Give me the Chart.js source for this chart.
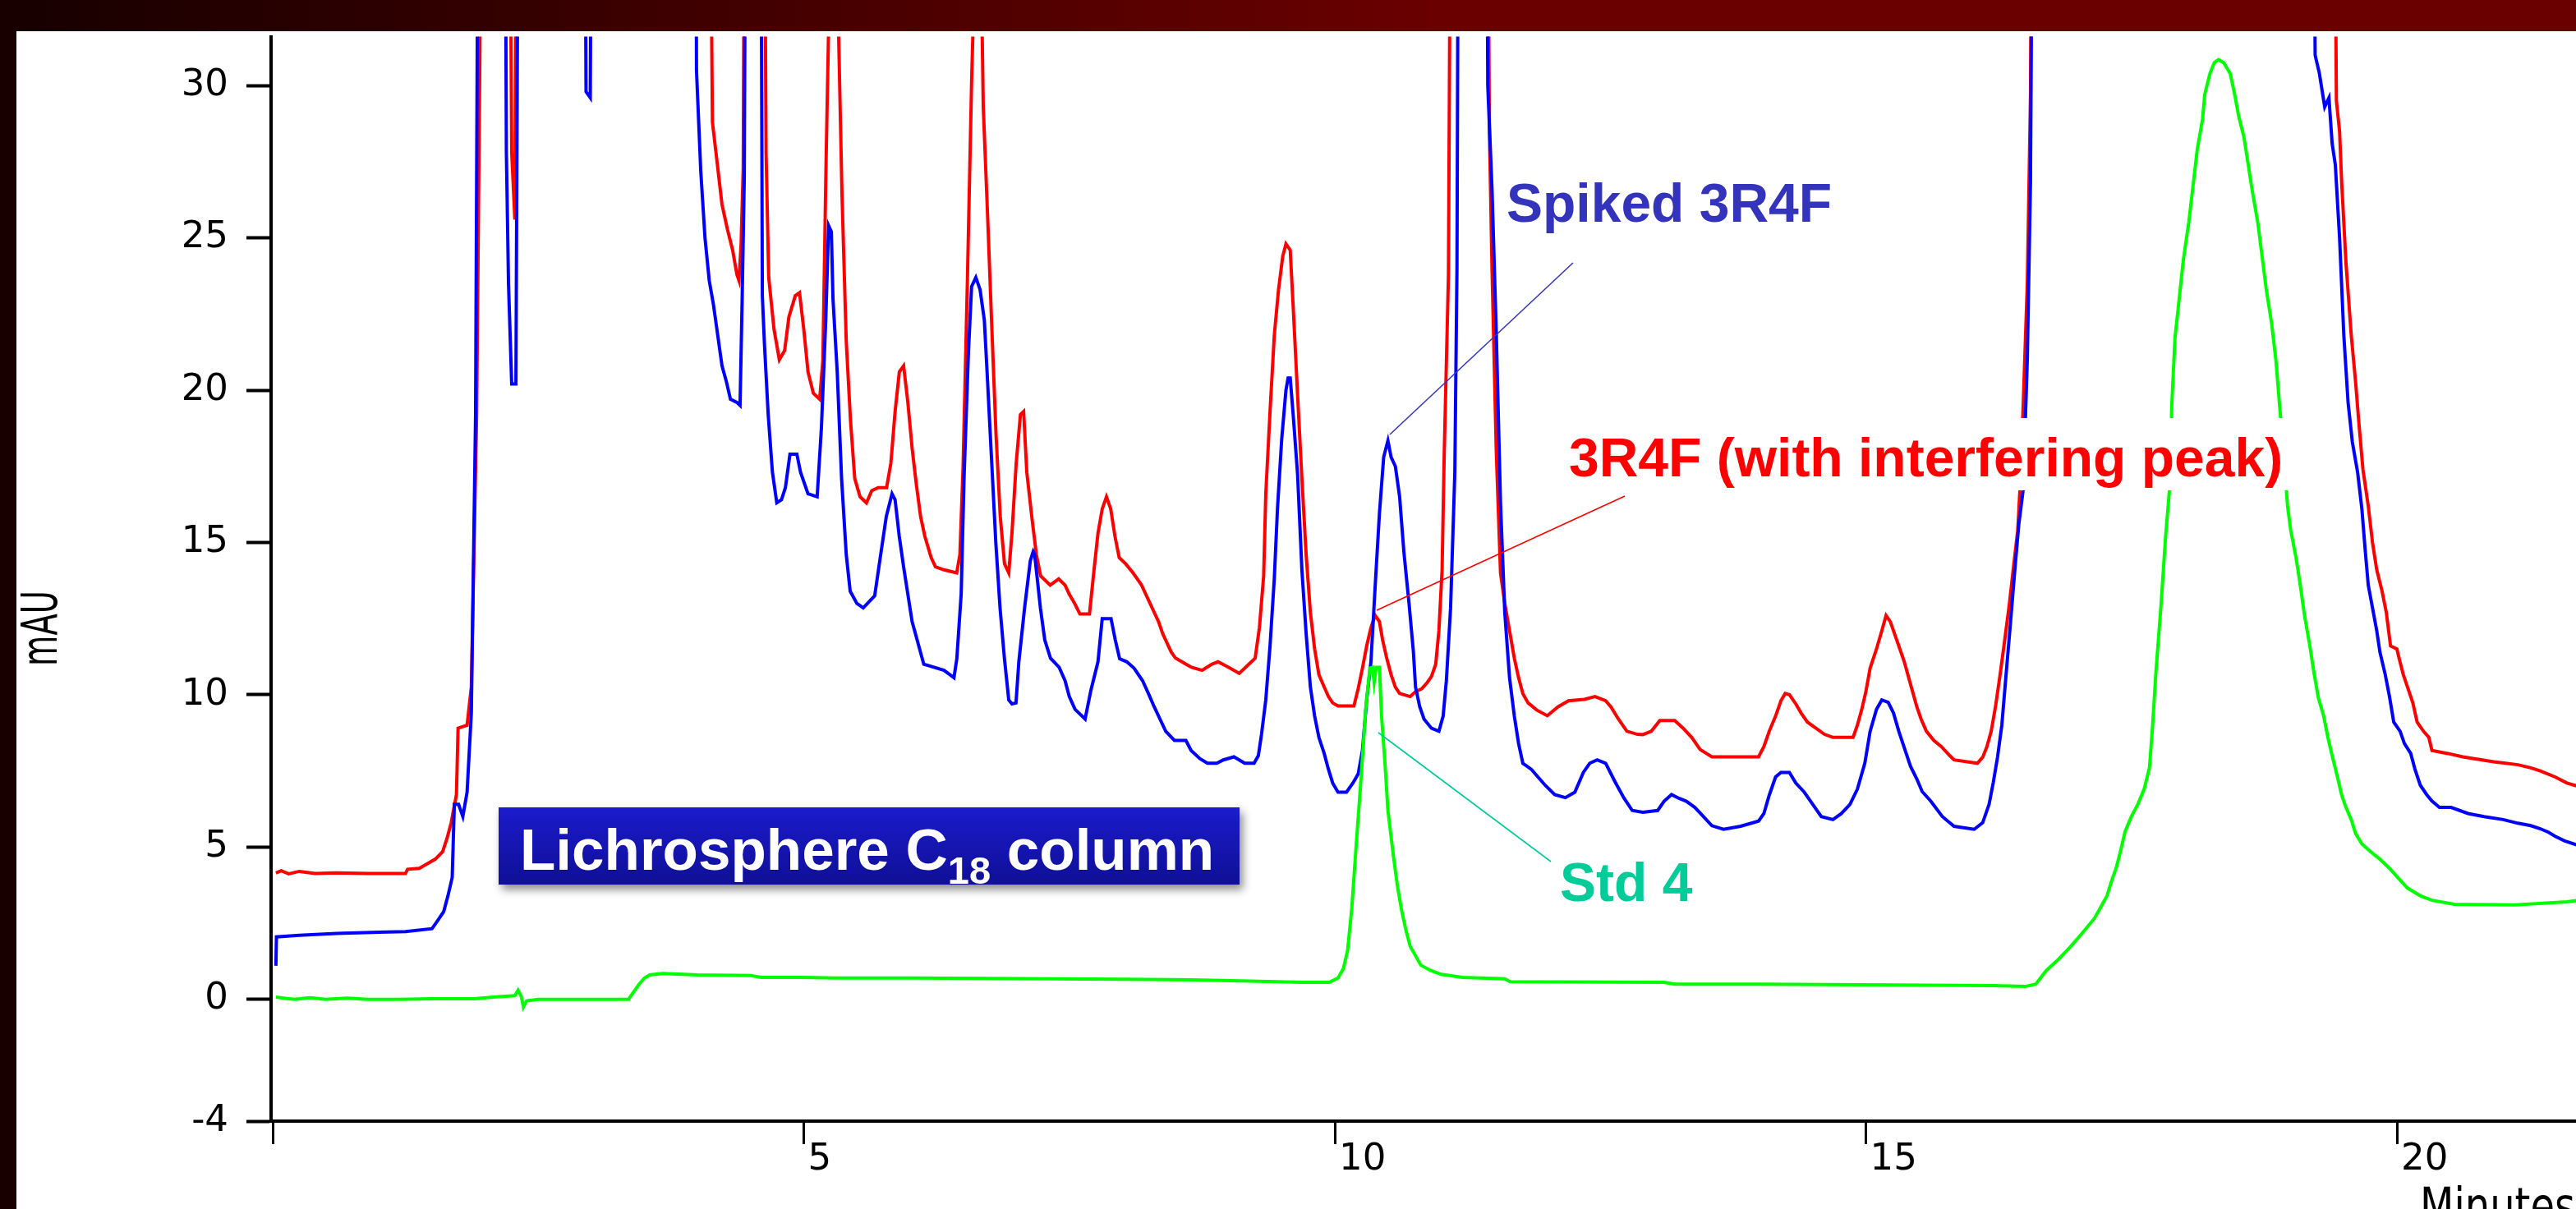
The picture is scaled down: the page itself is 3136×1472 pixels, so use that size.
<!DOCTYPE html>
<html>
<head>
<meta charset="utf-8">
<title>Lichrosphere C18 chromatogram</title>
<script src="https://cdn.jsdelivr.net/npm/chart.js@4.4.1/dist/chart.umd.min.js"></script>
<style>
html,body{margin:0;padding:0;background:#ffffff;overflow:hidden;}
#chart{display:block;}
</style>
</head>
<body>
<canvas id="chart" width="3136" height="1472"></canvas>
<script>
// ---------------- data ----------------
const xTickValues = [0, 5, 10, 15, 20];
const yTickValues = [-4, 0, 5, 10, 15, 20, 25, 30];
const xRange = [-0.0155, 21.686];   // minutes
const yRange = [-4, 31.61];         // mAU
const seriesNames = ['Std 4', 'Spiked 3R4F', '3R4F (with interfering peak)'];

// [minutes, mAU]; values above the top of the plot are off scale in the picture
const redTrace = [
[0.03,4.15],[0.08,4.22],[0.15,4.12],[0.25,4.2],[0.4,4.13],[0.6,4.15],[0.9,4.13],[1.25,4.13],
[1.27,4.27],[1.38,4.3],[1.45,4.44],[1.53,4.6],[1.6,4.85],[1.64,5.27],[1.68,5.79],[1.73,6.72],
[1.745,8.9],[1.83,9.0],[1.87,10.25],[1.92,19.2],[1.95,30.8],[1.97,45],[2.22,45],[2.25,27.8],
[2.28,25.6],[2.30,45],[4.10,45],[4.14,28.8],[4.19,27.3],[4.23,26.1],[4.28,25.3],[4.33,24.6],
[4.37,23.8],[4.39,23.6],[4.41,24.8],[4.43,27.3],[4.45,45],[4.62,45],[4.645,27.8],[4.67,23.7],
[4.72,22.0],[4.77,21.0],[4.82,21.3],[4.86,22.4],[4.92,23.1],[4.96,23.2],[5.0,22.0],[5.04,20.6],
[5.09,19.9],[5.15,19.7],[5.18,21.0],[5.21,27.5],[5.24,33.0],[5.32,33.0],[5.36,26.4],[5.40,21.6],
[5.44,19.0],[5.48,17.1],[5.53,16.5],[5.59,16.3],[5.64,16.7],[5.7,16.8],[5.78,16.8],[5.82,17.6],
[5.86,19.3],[5.9,20.6],[5.94,20.8],[5.98,19.6],[6.02,18.1],[6.06,16.9],[6.1,15.85],[6.14,15.2],
[6.2,14.5],[6.24,14.2],[6.32,14.1],[6.44,14.0],[6.47,14.6],[6.5,17.5],[6.54,23.5],[6.58,30.1],
[6.61,34],[6.67,34],[6.69,29.3],[6.73,25.8],[6.77,22.1],[6.81,18.55],[6.85,15.85],[6.89,14.3],
[6.93,14.0],[6.96,15.3],[7.0,17.6],[7.04,19.2],[7.07,19.3],[7.1,17.3],[7.15,15.75],[7.19,14.6],
[7.23,13.9],[7.32,13.6],[7.4,13.8],[7.46,13.6],[7.5,13.3],[7.55,13.0],[7.6,12.65],[7.69,12.65],
[7.73,14.0],[7.77,15.3],[7.81,16.1],[7.85,16.5],[7.89,16.1],[7.93,15.2],[7.97,14.5],[8.03,14.3],
[8.1,14.0],[8.14,13.8],[8.18,13.6],[8.22,13.3],[8.26,13.0],[8.3,12.7],[8.34,12.4],[8.38,12.0],
[8.42,11.7],[8.46,11.4],[8.5,11.2],[8.6,11.0],[8.65,10.9],[8.75,10.8],[8.84,11.0],[8.9,11.08],
[9.0,10.9],[9.1,10.7],[9.19,11.0],[9.25,11.2],[9.29,12.2],[9.33,13.9],[9.35,16.6],[9.39,19.3],
[9.43,21.8],[9.47,23.3],[9.51,24.4],[9.54,24.8],[9.58,24.6],[9.61,22.6],[9.65,19.8],[9.69,17.1],
[9.73,14.6],[9.77,12.7],[9.81,11.5],[9.85,10.66],[9.9,10.25],[9.94,9.94],[9.98,9.73],[10.03,9.63],
[10.18,9.63],[10.22,10.2],[10.26,10.87],[10.3,11.6],[10.34,12.2],[10.38,12.6],[10.42,12.4],[10.45,11.8],
[10.49,11.18],[10.53,10.66],[10.57,10.25],[10.61,10.04],[10.71,9.94],[10.76,10.1],[10.82,10.2],[10.87,10.4],
[10.91,10.6],[10.95,11.0],[10.98,12.1],[11.01,14.1],[11.03,17.9],[11.07,23.8],[11.1,45],[11.43,45],
[11.455,28.6],[11.48,24],[11.52,18],[11.56,14],[11.6,13],[11.65,12.0],[11.69,11.2],[11.73,10.56],
[11.77,10.04],[11.82,9.73],[11.9,9.5],[12.0,9.31],[12.1,9.6],[12.2,9.8],[12.35,9.85],[12.45,9.94],
[12.55,9.8],[12.6,9.6],[12.67,9.2],[12.75,8.8],[12.85,8.7],[12.9,8.69],[12.98,8.8],[13.06,9.15],
[13.2,9.15],[13.28,8.9],[13.36,8.6],[13.44,8.2],[13.55,7.96],[13.99,7.96],[14.04,8.3],[14.09,8.8],
[14.15,9.3],[14.2,9.8],[14.24,10.04],[14.28,10.0],[14.34,9.7],[14.39,9.4],[14.45,9.1],[14.53,8.9],
[14.61,8.7],[14.69,8.6],[14.88,8.6],[14.92,9.0],[14.96,9.5],[15.0,10.1],[15.04,10.87],[15.1,11.5],
[15.15,12.1],[15.19,12.6],[15.23,12.4],[15.27,12.0],[15.31,11.6],[15.36,11.1],[15.4,10.6],[15.44,10.1],
[15.48,9.6],[15.52,9.2],[15.57,8.8],[15.64,8.5],[15.71,8.3],[15.79,8.0],[15.83,7.86],[16.05,7.75],
[16.1,7.95],[16.14,8.3],[16.18,8.8],[16.22,9.6],[16.26,10.56],[16.3,11.6],[16.35,12.95],[16.39,14.2],
[16.43,15.4],[16.45,16.7],[16.48,19.4],[16.52,23.5],[16.55,29.7],[16.57,45],[19.40,45],[19.43,29.5],
[19.46,28.5],[19.48,26.8],[19.52,24.2],[19.57,21.8],[19.61,20.3],[19.64,19.0],[19.68,17.4],[19.73,16.2],
[19.77,15.0],[19.81,14.1],[19.86,13.4],[19.9,12.7],[19.94,11.6],[20.0,11.5],[20.02,11.2],[20.06,10.66],
[20.1,10.25],[20.15,9.73],[20.19,9.1],[20.25,8.8],[20.3,8.6],[20.33,8.17],[20.48,8.07],[20.62,7.96],
[20.91,7.8],[21.14,7.7],[21.26,7.6],[21.35,7.5],[21.49,7.3],[21.6,7.1],[21.7,7.0]
];

const blueTrace = [
[0.03,1.1],[0.035,2.05],[0.25,2.1],[0.6,2.16],[1.0,2.2],[1.25,2.22],[1.5,2.32],[1.53,2.47],
[1.57,2.67],[1.61,2.88],[1.65,3.4],[1.69,4.0],[1.71,6.4],[1.75,6.4],[1.79,6.0],[1.83,6.8],
[1.87,9.4],[1.91,19.2],[1.925,30.8],[1.94,45],[2.18,45],[2.20,27.8],[2.22,23.5],[2.25,20.2],
[2.29,20.2],[2.32,45],[2.93,45],[2.95,29.8],[2.99,29.6],[3.01,45],[3.98,45],[3.99,30.5],
[4.03,27.2],[4.07,25.0],[4.11,23.6],[4.15,22.8],[4.19,21.8],[4.23,20.8],[4.27,20.3],[4.31,19.7],
[4.37,19.6],[4.40,19.5],[4.42,23.0],[4.44,27],[4.46,45],[4.59,45],[4.61,23.1],[4.63,21.5],
[4.665,19.2],[4.705,17.3],[4.746,16.3],[4.79,16.4],[4.827,16.8],[4.87,17.9],[4.935,17.9],[4.97,17.3],
[5.04,16.6],[5.126,16.5],[5.166,18.75],[5.207,22.3],[5.234,25.4],[5.26,25.2],[5.275,23.0],[5.315,20.6],
[5.356,17.1],[5.40,14.6],[5.437,13.4],[5.5,13.0],[5.56,12.85],[5.668,13.25],[5.72,14.5],[5.777,15.85],
[5.831,16.6],[5.86,16.4],[5.899,15.2],[5.94,14.2],[5.98,13.3],[6.02,12.4],[6.075,11.7],[6.13,11.0],
[6.32,10.8],[6.414,10.56],[6.441,11.18],[6.482,13.3],[6.509,17.1],[6.55,21.2],[6.58,23.4],[6.62,23.7],
[6.66,23.3],[6.70,22.3],[6.726,20.6],[6.767,17.8],[6.808,15.0],[6.848,12.85],[6.889,11.2],[6.93,9.83],
[6.96,9.7],[6.998,9.73],[7.025,11.08],[7.079,12.85],[7.133,14.4],[7.16,14.7],[7.174,14.6],[7.228,12.85],
[7.269,11.8],[7.323,11.2],[7.404,10.9],[7.46,10.46],[7.5,9.94],[7.554,9.52],[7.649,9.2],[7.703,10.14],
[7.77,11.08],[7.81,12.5],[7.893,12.5],[7.933,11.8],[7.974,11.18],[8.042,11.08],[8.11,10.87],[8.19,10.46],
[8.245,10.04],[8.3,9.6],[8.354,9.2],[8.408,8.8],[8.49,8.5],[8.598,8.5],[8.647,8.17],[8.73,7.9],
[8.8,7.75],[8.89,7.75],[8.95,7.86],[9.05,7.96],[9.1,7.86],[9.15,7.75],[9.24,7.75],[9.28,8.0],
[9.31,8.7],[9.35,9.83],[9.39,11.6],[9.43,13.8],[9.46,16.1],[9.5,18.4],[9.54,20.0],[9.56,20.4],
[9.58,20.4],[9.61,19.1],[9.65,17.2],[9.69,14.1],[9.73,12.0],[9.77,10.25],[9.81,9.3],[9.85,8.6],
[9.9,8.07],[9.94,7.55],[9.98,7.1],[10.03,6.8],[10.11,6.8],[10.17,7.1],[10.22,7.4],[10.26,8.17],
[10.3,9.83],[10.34,11.08],[10.38,13.57],[10.42,15.95],[10.46,17.8],[10.5,18.34],[10.53,17.8],[10.57,17.5],
[10.61,16.5],[10.65,14.7],[10.7,12.95],[10.74,11.4],[10.76,10.25],[10.8,9.6],[10.84,9.2],[10.91,8.9],
[10.98,8.8],[11.02,9.3],[11.05,10.45],[11.09,12.85],[11.13,17.3],[11.15,24.0],[11.17,45],[11.42,45],
[11.44,30],[11.48,26.6],[11.52,21.9],[11.56,16.3],[11.6,12.7],[11.645,10.56],[11.69,9.3],[11.73,8.4],
[11.77,7.75],[11.85,7.55],[11.98,7.03],[12.07,6.72],[12.17,6.62],[12.26,6.8],[12.34,7.45],[12.4,7.75],
[12.47,7.86],[12.55,7.75],[12.64,7.13],[12.72,6.62],[12.8,6.2],[12.9,6.14],[13.04,6.2],[13.1,6.5],
[13.17,6.72],[13.24,6.6],[13.31,6.5],[13.39,6.3],[13.47,6.0],[13.55,5.7],[13.66,5.58],[13.82,5.68],
[13.99,5.85],[14.04,6.1],[14.09,6.7],[14.15,7.3],[14.2,7.45],[14.28,7.45],[14.34,7.1],[14.42,6.8],
[14.5,6.4],[14.58,6.0],[14.69,5.9],[14.77,6.1],[14.85,6.4],[14.92,6.9],[14.99,7.75],[15.04,8.8],
[15.1,9.52],[15.15,9.83],[15.21,9.75],[15.26,9.4],[15.31,8.8],[15.37,8.17],[15.42,7.65],[15.48,7.23],
[15.53,6.82],[15.61,6.51],[15.72,6.0],[15.83,5.68],[16.02,5.58],[16.1,5.8],[16.16,6.4],[16.2,7.13],
[16.24,7.96],[16.28,9.0],[16.32,10.66],[16.36,12.3],[16.4,14.0],[16.44,15.6],[16.48,16.7],[16.52,21.0],
[16.55,26.85],[16.58,45],[19.2,45],[19.23,31.0],[19.27,30.4],[19.32,29.3],[19.36,29.6],[19.39,28.1],
[19.42,27.4],[19.46,25.0],[19.5,21.8],[19.54,19.6],[19.58,18.3],[19.63,17.3],[19.67,16.1],[19.7,14.8],
[19.73,13.6],[19.77,12.85],[19.81,12.1],[19.84,11.4],[19.89,10.66],[19.93,9.94],[19.97,9.1],[20.03,8.8],
[20.07,8.4],[20.13,8.07],[20.17,7.55],[20.22,7.03],[20.28,6.72],[20.33,6.51],[20.4,6.3],[20.51,6.3],
[20.67,6.1],[20.82,6.0],[21.0,5.9],[21.14,5.78],[21.26,5.7],[21.35,5.6],[21.43,5.48],[21.49,5.35],
[21.58,5.2],[21.7,5.06]
];

const greenTrace = [
[0.03,0.07],[0.1,0.04],[0.2,0.0],[0.35,0.05],[0.5,0.0],[0.7,0.04],[0.9,0.0],[1.2,0.0],
[1.5,0.02],[1.9,0.02],[2.1,0.08],[2.28,0.12],[2.31,0.3],[2.34,0.1],[2.36,-0.25],[2.39,-0.05],
[2.5,0.0],[3.0,0.0],[3.35,0.0],[3.4,0.25],[3.45,0.5],[3.5,0.7],[3.55,0.8],[3.67,0.85],
[4.0,0.8],[4.5,0.78],[4.6,0.72],[5.0,0.72],[5.3,0.7],[6.0,0.7],[7.0,0.68],[8.0,0.66],
[8.65,0.64],[9.2,0.6],[9.7,0.56],[9.95,0.56],[10.03,0.7],[10.08,1.0],[10.12,1.6],[10.16,3.0],
[10.2,5.0],[10.25,7.4],[10.29,9.5],[10.33,10.87],[10.355,10.9],[10.37,10.4],[10.39,10.9],[10.42,10.9],
[10.44,9.3],[10.47,7.86],[10.5,6.2],[10.55,4.75],[10.59,3.7],[10.63,2.9],[10.67,2.26],[10.71,1.74],
[10.76,1.43],[10.81,1.12],[10.9,0.95],[11.0,0.82],[11.2,0.72],[11.6,0.67],[11.65,0.58],[13.1,0.56],
[13.2,0.5],[14.0,0.5],[16.2,0.45],[16.5,0.42],[16.6,0.5],[16.7,0.95],[16.81,1.3],[16.92,1.7],
[17.02,2.1],[17.15,2.65],[17.2,2.95],[17.27,3.4],[17.32,3.95],[17.36,4.35],[17.4,4.9],[17.44,5.5],
[17.5,6.0],[17.56,6.4],[17.62,6.9],[17.67,7.6],[17.7,9.0],[17.73,10.7],[17.78,13.0],[17.82,15.1],
[17.86,16.8],[17.88,19.5],[17.91,21.7],[17.95,23.0],[17.99,24.3],[18.04,25.5],[18.08,26.7],[18.12,27.9],
[18.17,28.9],[18.19,29.7],[18.24,30.4],[18.28,30.75],[18.32,30.85],[18.37,30.75],[18.43,30.4],[18.47,29.75],
[18.51,29.0],[18.56,28.3],[18.6,27.4],[18.64,26.5],[18.69,25.5],[18.73,24.4],[18.77,23.3],[18.82,22.2],
[18.86,21.0],[18.9,19.3],[18.94,17.6],[18.97,16.2],[19.0,15.4],[19.05,14.5],[19.09,13.6],[19.13,12.6],
[19.18,11.6],[19.22,10.7],[19.26,9.9],[19.31,9.3],[19.35,8.6],[19.39,8.0],[19.44,7.3],[19.48,6.7],
[19.52,6.3],[19.57,5.9],[19.61,5.45],[19.67,5.1],[19.75,4.85],[19.84,4.6],[19.93,4.3],[20.02,3.95],
[20.1,3.65],[20.22,3.4],[20.33,3.25],[20.54,3.12],[21.11,3.1],[21.6,3.2],[21.7,3.25]
];

// ---------------- rendering ----------------
const AXIS_FONT = '"DejaVu Sans", "Liberation Sans", sans-serif';
const LABEL_FONT = '"Liberation Sans", Arial, Helvetica, sans-serif';
const toXY = arr => arr.map(p => ({x: p[0], y: p[1]}));

const decorations = {
  id: 'decorations',
  afterDraw(chart) {
    const c = chart.ctx;
    c.save();
    // white backing of the red label (it hides the traces behind it)
    c.fillStyle = '#ffffff';
    c.fillRect(1902, 509, 892, 88);
    // leader lines
    const seg = (x1, y1, x2, y2, col) => {
      c.strokeStyle = col; c.lineWidth = 1.6;
      c.beginPath(); c.moveTo(x1, y1); c.lineTo(x2, y2); c.stroke();
    };
    seg(1692, 529, 1915, 320, '#3535c8');
    seg(1676, 743, 1978, 604, '#ff0000');
    seg(1678, 892, 1888, 1049, '#00cc99');
    // series labels
    c.font = 'bold 66px ' + LABEL_FONT;
    c.textAlign = 'left'; c.textBaseline = 'alphabetic';
    c.fillStyle = '#3333bb'; c.fillText(seriesNames[1], 1834, 270);
    c.fillStyle = '#ff0000'; c.fillText(seriesNames[2], 1910, 580);
    c.fillStyle = '#00cc99'; c.fillText(seriesNames[0], 1899, 1097);
    // column box
    c.save();
    c.shadowColor = 'rgba(0,0,0,0.45)'; c.shadowBlur = 10; c.shadowOffsetX = 4; c.shadowOffsetY = 6;
    const bg = c.createLinearGradient(0, 983, 0, 1077);
    bg.addColorStop(0, '#1b1bcc'); bg.addColorStop(1, '#0f0f96');
    c.fillStyle = bg; c.fillRect(607, 983, 902, 94);
    c.restore();
    c.fillStyle = '#ffffff';
    let x = 633;
    c.font = 'bold 71px ' + LABEL_FONT;
    c.fillText('Lichrosphere C', x, 1059); x += c.measureText('Lichrosphere C').width;
    c.font = 'bold 47px ' + LABEL_FONT;
    c.fillText('18', x, 1076); x += c.measureText('18').width;
    c.font = 'bold 71px ' + LABEL_FONT;
    c.fillText(' column', x, 1059);
    // axis titles
    c.fillStyle = '#000000';
    c.save();
    c.translate(69, 765); c.rotate(-Math.PI / 2); c.scale(0.64, 1);
    c.font = '60px ' + AXIS_FONT; c.textAlign = 'center'; c.textBaseline = 'alphabetic';
    c.fillText('mAU', 0, 0);
    c.restore();
    c.save();
    c.translate(2946, 1489); c.scale(0.8, 1);
    c.font = '60px ' + AXIS_FONT; c.textAlign = 'left'; c.textBaseline = 'alphabetic';
    c.fillText('Minutes', 0, 0);
    c.restore();
    // slide frame
    const g = c.createLinearGradient(0, 0, 3136, 0);
    g.addColorStop(0, '#170000'); g.addColorStop(0.564, '#6b0000'); g.addColorStop(1, '#6b0000');
    c.fillStyle = g; c.fillRect(0, 0, 3136, 38);
    c.fillStyle = '#190000'; c.fillRect(0, 0, 20, 1472);
    c.restore();
  }
};

const lineStyle = {borderWidth: 4, pointRadius: 0, tension: 0, fill: false, clip: 0};

new Chart(document.getElementById('chart'), {
  type: 'line',
  data: {
    datasets: [
      Object.assign({label: seriesNames[0], data: toXY(greenTrace), borderColor: '#00ff00'}, lineStyle),
      Object.assign({label: seriesNames[1], data: toXY(blueTrace), borderColor: '#0000ff'}, lineStyle),
      Object.assign({label: seriesNames[2], data: toXY(redTrace), borderColor: '#ff0000'}, lineStyle)
    ]
  },
  options: {
    responsive: false,
    animation: false,
    devicePixelRatio: 1,
    layout: {padding: {top: 38, left: 0, right: 0, bottom: 0}},
    plugins: {legend: {display: false}, tooltip: {enabled: false}},
    scales: {
      x: {
        type: 'linear', min: xRange[0], max: xRange[1],
        afterFit(s) { s.height = 107; },
        afterBuildTicks(s) { s.ticks = xTickValues.map(v => ({value: v})); },
        grid: {drawOnChartArea: false, drawTicks: true, tickLength: 28, tickWidth: 3, tickColor: '#000000'},
        border: {display: true, color: '#000000', width: 4},
        ticks: {
          align: 'start', padding: -3, labelOffset: 5, autoSkip: false, maxRotation: 0,
          color: '#000000', font: {family: AXIS_FONT, size: 45, lineHeight: 1},
          callback: v => (v === 0 ? '' : String(v))
        }
      },
      y: {
        type: 'linear', min: yRange[0], max: yRange[1],
        afterFit(s) { s.width = 330; },
        afterBuildTicks(s) { s.ticks = yTickValues.map(v => ({value: v})); },
        grid: {drawOnChartArea: false, drawTicks: true, tickLength: 30, tickWidth: 4, tickColor: '#000000'},
        border: {display: true, color: '#000000', width: 4},
        ticks: {
          padding: 22, autoSkip: false, color: '#000000',
          font: {family: AXIS_FONT, size: 45, lineHeight: 1},
          callback: v => String(v)
        }
      }
    }
  },
  plugins: [decorations]
});
</script>
</body>
</html>
